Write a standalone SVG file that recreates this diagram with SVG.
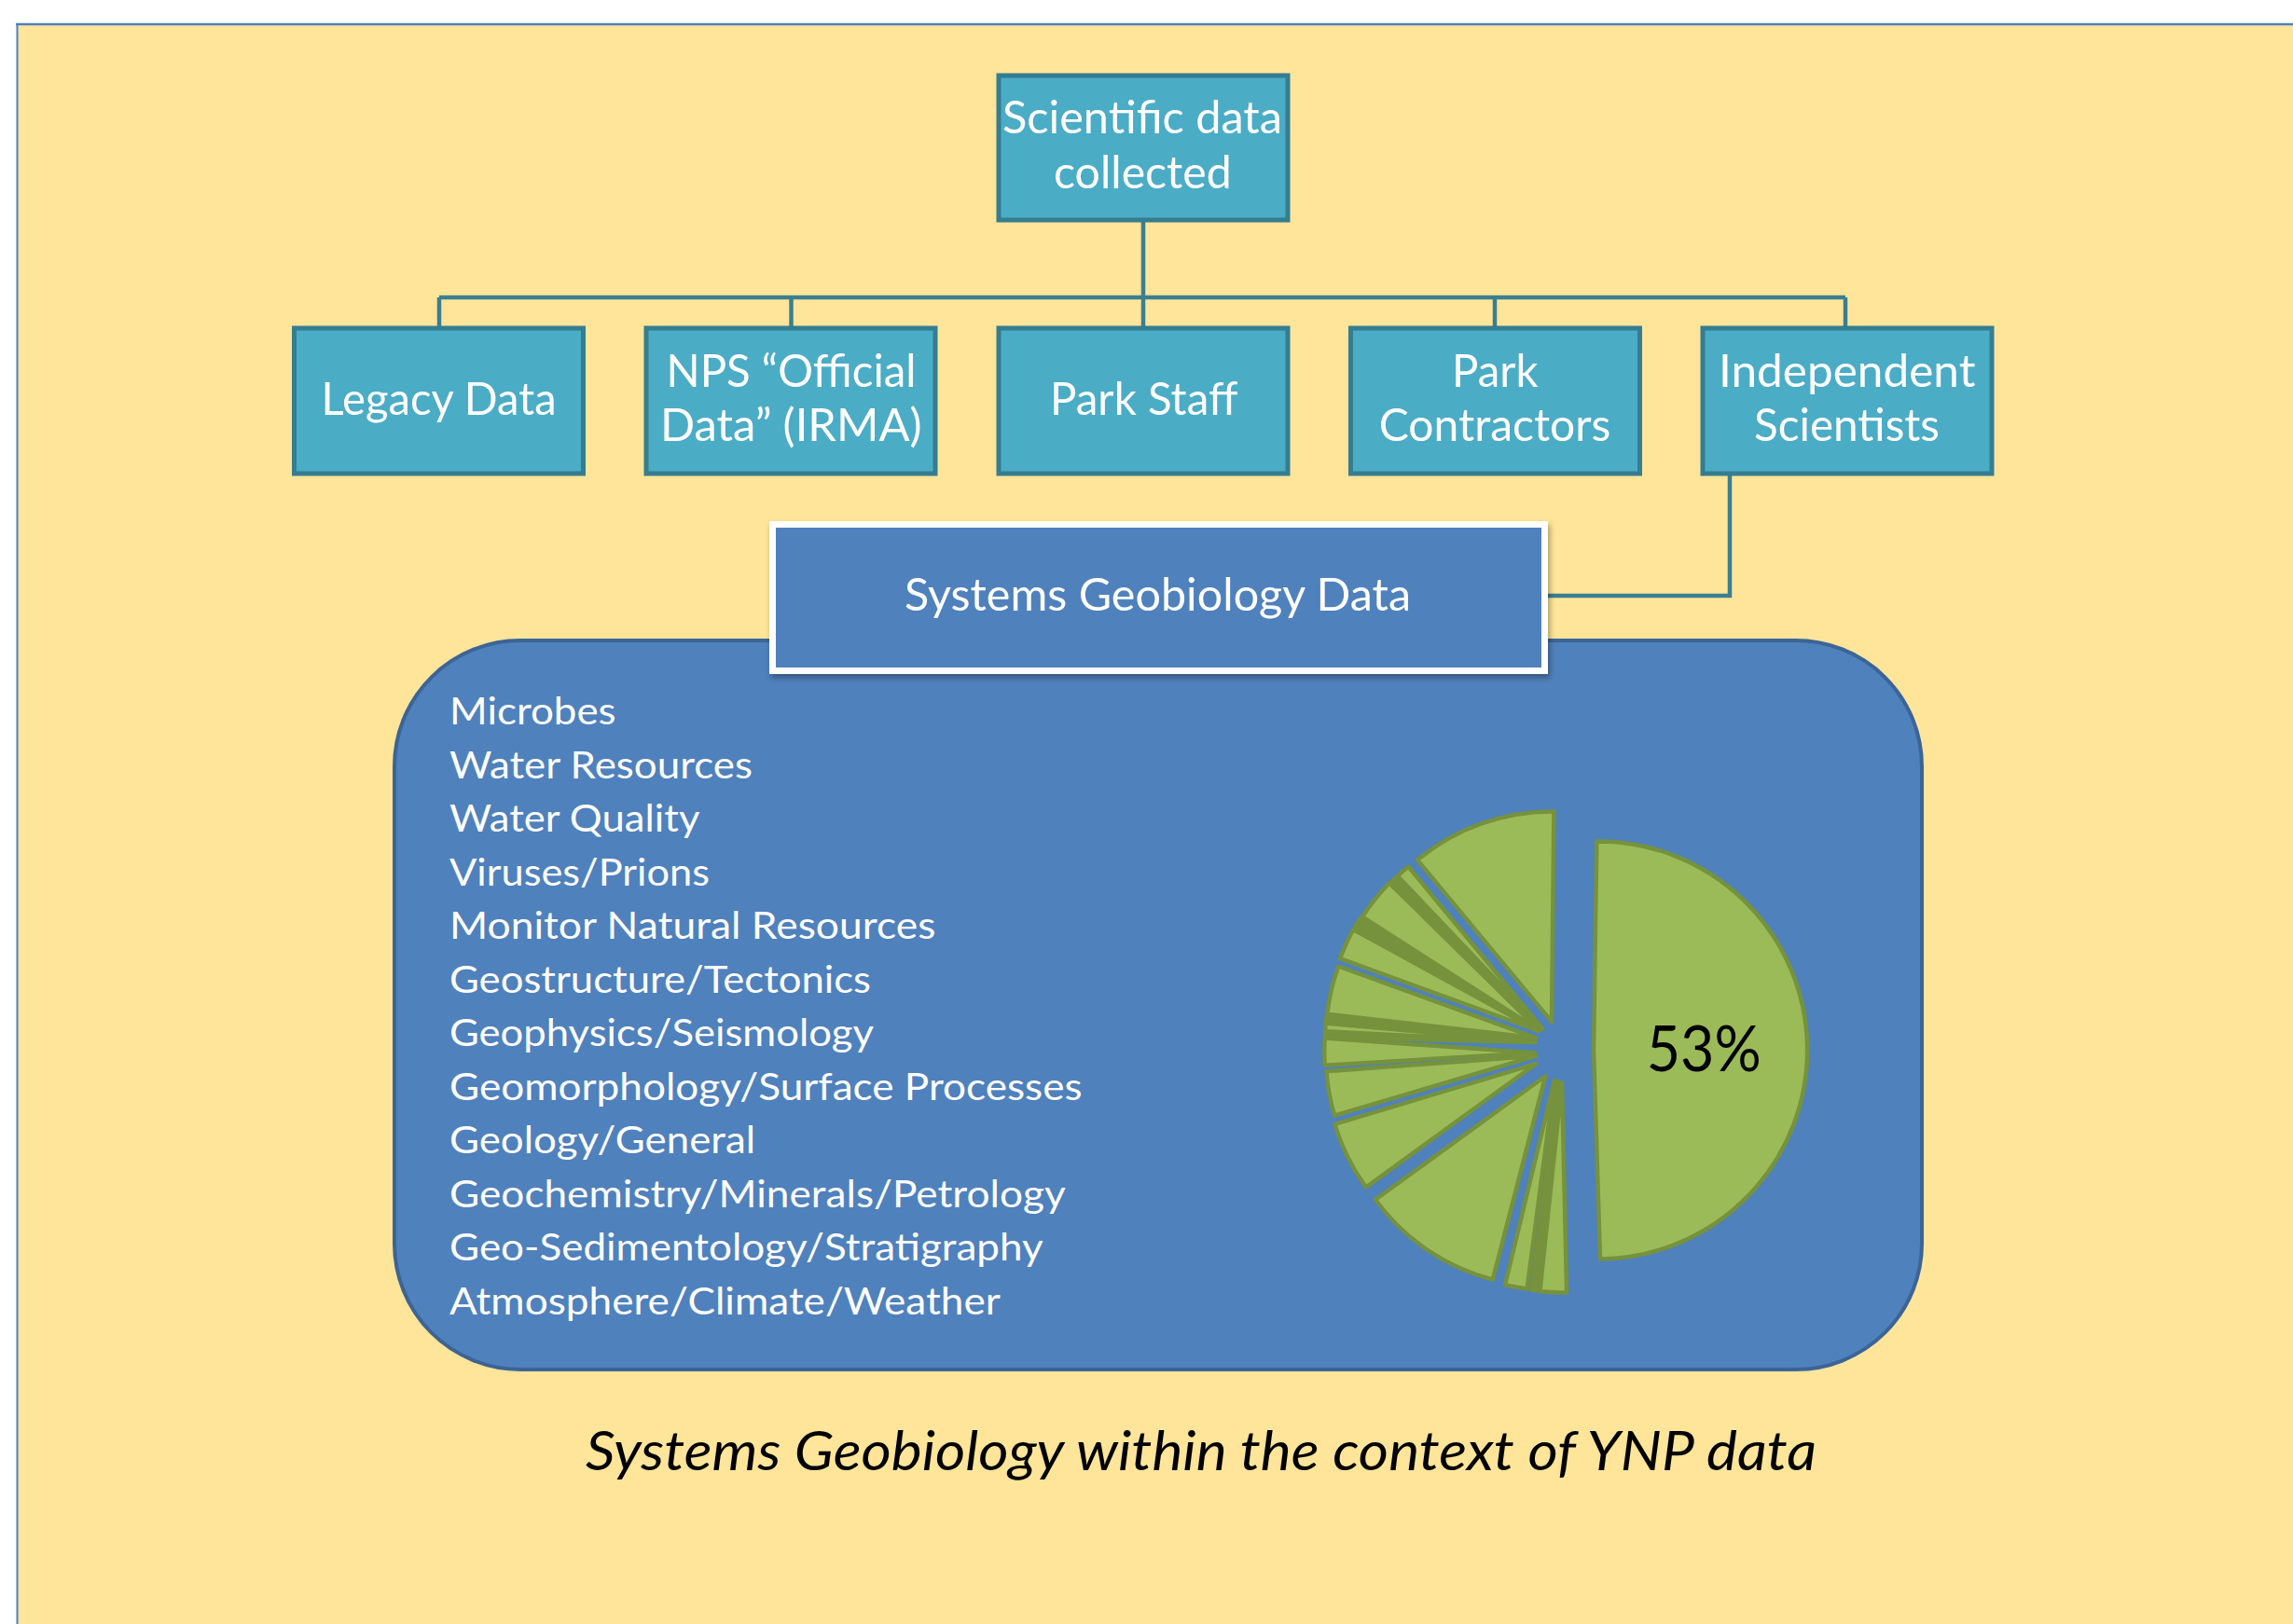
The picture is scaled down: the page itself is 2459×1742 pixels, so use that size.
<svg xmlns="http://www.w3.org/2000/svg" width="2459" height="1742" viewBox="0 0 2459 1742">
<style>
.node rect{fill:#4BACC6;stroke:#357D91;stroke-width:5}
.nt{font-family:Lato,"Open Sans","Liberation Sans",sans-serif;font-size:49px;fill:#FFFFFF}
.lt{font-family:Lato,"Open Sans","Liberation Sans",sans-serif;font-size:41px;fill:#FFFFFF}
.conn{fill:none;stroke:#3A7F91;stroke-width:4.5}
.sl{fill:#9BBB59;stroke:#76923C;stroke-width:4.5;stroke-linejoin:round}
.sd{fill:#76923C;stroke:#76923C;stroke-width:4.5;stroke-linejoin:round}
</style>
<defs>
<filter id="sh" x="-10%" y="-10%" width="120%" height="130%">
<feDropShadow dx="2" dy="4" stdDeviation="3" flood-color="#000000" flood-opacity="0.35"/>
</filter>
</defs>
<rect x="0" y="0" width="2459" height="1742" fill="#FFFFFF"/>
<rect x="18" y="26" width="2441" height="1716" fill="#FFE599"/>
<line x1="17" y1="26" x2="2459" y2="26" stroke="#4F81BD" stroke-width="2.5"/>
<line x1="18.5" y1="25" x2="18.5" y2="1742" stroke="#4F81BD" stroke-width="2"/>

<g id="connectors">
<path class="conn" d="M1226 238 V319 M471 319 H1979 M471 319 V350 M848.5 319 V350 M1226 319 V350 M1603 319 V350 M1979 319 V350"/>
<path class="conn" d="M1855 510 V639 H1658"/>
</g>

<g id="node-top" class="node">
<rect x="1071" y="81" width="310" height="155"/>
<text class="nt" x="1075" y="143.3" textLength="300" lengthAdjust="spacingAndGlyphs">Scientific data</text>
<text class="nt" x="1130" y="201.7" textLength="190.7" lengthAdjust="spacingAndGlyphs">collected</text>
</g>
<g id="node-legacy" class="node">
<rect x="315.5" y="352" width="310" height="156"/>
<text class="nt" x="344.6" y="445" textLength="252" lengthAdjust="spacingAndGlyphs">Legacy Data</text>
</g>
<g id="node-nps" class="node">
<rect x="693" y="352" width="310" height="156"/>
<text class="nt" x="714.5" y="415" textLength="268" lengthAdjust="spacingAndGlyphs">NPS “Official</text>
<text class="nt" x="708" y="473.3" textLength="280.6" lengthAdjust="spacingAndGlyphs">Data” (IRMA)</text>
</g>
<g id="node-staff" class="node">
<rect x="1071" y="352" width="310" height="156"/>
<text class="nt" x="1126" y="445" textLength="201.5" lengthAdjust="spacingAndGlyphs">Park Staff</text>
</g>
<g id="node-contractors" class="node">
<rect x="1448.5" y="352" width="310" height="156"/>
<text class="nt" x="1557" y="415" textLength="92.5" lengthAdjust="spacingAndGlyphs">Park</text>
<text class="nt" x="1478.7" y="473.3" textLength="248.7" lengthAdjust="spacingAndGlyphs">Contractors</text>
</g>
<g id="node-independent" class="node">
<rect x="1826" y="352" width="310" height="156"/>
<text class="nt" x="1842.9" y="415" textLength="275.5" lengthAdjust="spacingAndGlyphs">Independent</text>
<text class="nt" x="1881" y="473.3" textLength="199" lengthAdjust="spacingAndGlyphs">Scientists</text>
</g>

<g id="node-topics">
<rect x="423" y="687" width="1638" height="782" rx="135" ry="135" fill="#4F81BD" stroke="#3C6496" stroke-width="4"/>
<text class="lt" x="482" y="777" textLength="178.6" lengthAdjust="spacingAndGlyphs">Microbes</text>
<text class="lt" x="482" y="834.5" textLength="325" lengthAdjust="spacingAndGlyphs">Water Resources</text>
<text class="lt" x="482" y="892" textLength="268.4" lengthAdjust="spacingAndGlyphs">Water Quality</text>
<text class="lt" x="482" y="949.5" textLength="279" lengthAdjust="spacingAndGlyphs">Viruses/Prions</text>
<text class="lt" x="482" y="1007" textLength="521.4" lengthAdjust="spacingAndGlyphs">Monitor Natural Resources</text>
<text class="lt" x="482" y="1064.5" textLength="452" lengthAdjust="spacingAndGlyphs">Geostructure/Tectonics</text>
<text class="lt" x="482" y="1122" textLength="455" lengthAdjust="spacingAndGlyphs">Geophysics/Seismology</text>
<text class="lt" x="482" y="1179.5" textLength="678.6" lengthAdjust="spacingAndGlyphs">Geomorphology/Surface Processes</text>
<text class="lt" x="482" y="1237" textLength="328" lengthAdjust="spacingAndGlyphs">Geology/General</text>
<text class="lt" x="482" y="1294.5" textLength="660.7" lengthAdjust="spacingAndGlyphs">Geochemistry/Minerals/Petrology</text>
<text class="lt" x="482" y="1352" textLength="636.7" lengthAdjust="spacingAndGlyphs">Geo-Sedimentology/Stratigraphy</text>
<text class="lt" x="482" y="1409.5" textLength="590.8" lengthAdjust="spacingAndGlyphs">Atmosphere/Climate/Weather</text>
</g>

<g id="node-sgdata">
<rect x="828.5" y="562.5" width="828" height="157" fill="#4F81BD" stroke="#FFFFFF" stroke-width="7" filter="url(#sh)"/>
<text class="nt" x="970" y="655" textLength="543" lengthAdjust="spacingAndGlyphs">Systems Geobiology Data</text>
</g>

<g id="pie">
<path class="sl" d="M1709 1126 L1712.3 902.5 A224 224 0 0 1 1716 1350.5 Z"/>
<path class="sl" d="M1664 1096 L1666.4 870.5 A225.5 225.5 0 0 0 1520 922.5 Z"/>
<path class="sl" d="M1654 1103.3 L1510.3 929.6 A225.5 225.5 0 0 0 1498.8 939.7 Z"/>
<path class="sd" d="M1653 1104 L1496.4 941.8 A225.5 225.5 0 0 0 1491.3 946.8 Z"/>
<path class="sl" d="M1650.7 1105.3 L1489.9 947.2 A225.5 225.5 0 0 0 1460.9 983.5 Z"/>
<path class="sd" d="M1649 1106 L1458.2 985.8 A225.5 225.5 0 0 0 1451.8 996.7 Z"/>
<path class="sl" d="M1649 1105.3 L1451.2 997 A225.5 225.5 0 0 0 1437.1 1028.2 Z"/>
<path class="sl" d="M1647.3 1113.3 L1435.3 1036.5 A225.5 225.5 0 0 0 1423.2 1087.8 Z"/>
<path class="sd" d="M1646.5 1118 L1422.8 1088.7 A225.5 225.5 0 0 0 1421.7 1095.8 Z"/>
<path class="sl" d="M1646.5 1118 L1421.5 1097.4 A225.5 225.5 0 0 0 1421.2 1106.2 Z"/>
<path class="sd" d="M1646.5 1118 L1421.1 1107.3 A225.5 225.5 0 0 0 1421.0 1112.8 Z"/>
<path class="sl" d="M1645.7 1129.3 L1420.75 1113.6 A225.5 225.5 0 0 0 1420.6 1142.7 Z"/>
<path class="sl" d="M1647.3 1132.7 L1422.4 1149.2 A225.5 225.5 0 0 0 1431.1 1196.7 Z"/>
<path class="sl" d="M1647.3 1141 L1431.3 1205.8 A225.5 225.5 0 0 0 1464.9 1273.5 Z"/>
<path class="sl" d="M1657.3 1154.3 L1474.9 1286.8 A225.5 225.5 0 0 0 1600.8 1372.6 Z"/>
<path class="sl" d="M1667 1159 L1614 1378.2 A225.5 225.5 0 0 0 1637.6 1382.6 Z"/>
<path class="sd" d="M1671 1160 L1642.3 1383.7 A225.5 225.5 0 0 0 1649.4 1384.5 Z"/>
<path class="sl" d="M1675 1161 L1651.4 1385.3 A225.5 225.5 0 0 0 1680.1 1386.4 Z"/>
<text x="1765.7" y="1148.7" font-family="Lato,'Open Sans','Liberation Sans',sans-serif" font-size="68" fill="#000000" textLength="123" lengthAdjust="spacingAndGlyphs">53%</text>
</g>

<text id="caption" x="628" y="1576.7" font-family="Lato,'Open Sans','Liberation Sans',sans-serif" font-style="italic" font-size="58" fill="#000000" textLength="1320" lengthAdjust="spacingAndGlyphs">Systems Geobiology within the context of YNP data</text>
</svg>
